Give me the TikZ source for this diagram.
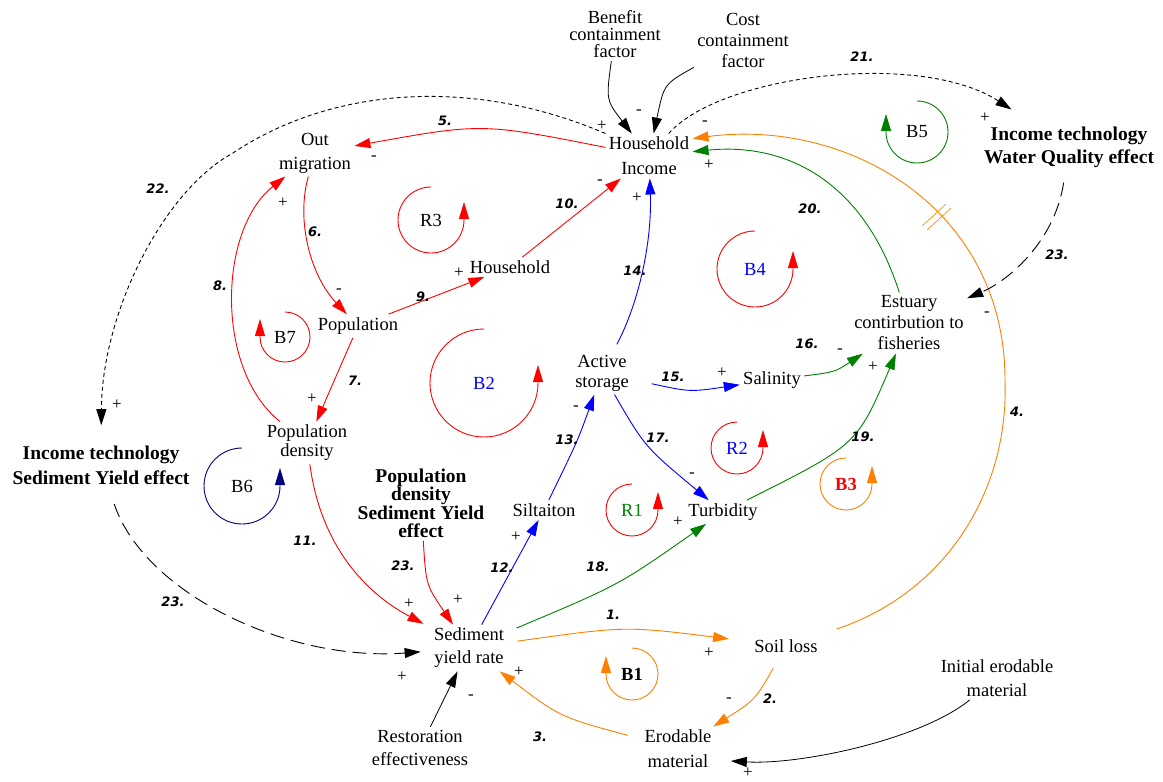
\documentclass[tikz,border=0pt]{standalone}
\usepackage{fontspec}
\setmainfont{Liberation Serif}
\newfontfamily\numfont{DejaVu Sans}
\usetikzlibrary{arrows.meta}

\definecolor{cred}{RGB}{255,0,0}
\definecolor{corange}{RGB}{255,128,0}
\definecolor{cgreen}{RGB}{0,128,0}
\definecolor{cblue}{RGB}{0,0,255}
\definecolor{cnavy}{RGB}{0,0,128}

\newcommand\varfont[1]{\fontsize{18.5}{#1}\selectfont}
\newcommand\boldfont[1]{\fontsize{19.5}{#1}\selectfont\bfseries}

\begin{document}
\begin{tikzpicture}[x=1pt,y=-1pt,>={Triangle[length=16pt,width=10pt]},
                    line width=0.9pt]

  \tikzstyle{var}=[align=center,inner sep=3pt,font=\varfont{22}]
  \tikzstyle{num}=[inner sep=0pt,font=\numfont\bfseries\itshape\fontsize{13}{13}\selectfont]
  \tikzstyle{sgn}=[inner sep=0pt,font=\fontsize{17}{17}\selectfont]
  \tikzstyle{loopline}=[-{Triangle[length=17pt,width=10pt]}]
  \tikzstyle{looplabel}=[inner sep=0pt]
  \tikzstyle{dotline}=[->,dash pattern=on 4pt off 3pt]
  \tikzstyle{dashline}=[->,dash pattern=on 14pt off 7pt]

  \useasboundingbox (0,0) rectangle (1163,782);

  % variables
  \node[var,font=\varfont{17}] (bcf)   at (615,34)  {Benefit\\containment\\factor};
  \node[var,font=\varfont{21}] (ccf)   at (743,40)  {Cost\\containment\\factor};
  \node[var,font=\varfont{25}] (hi)    at (649,156) {Household\\Income};
  \node[var,font=\varfont{24}] (om)    at (315,153) {Out\\migration};
  \node[var]                   (hh)    at (510,267) {Household};
  \node[var]                   (pop)   at (358,326) {Population};
  \node[var,font=\varfont{19}] (pd)    at (307,443) {Population\\density};
  \node[var,font=\boldfont{25}] (itsy) at (101,465) {Income technology\\Sediment Yield effect};
  \node[var,font=\boldfont{23}] (itwq) at (1069,147) {Income technology\\Water Quality effect};
  \node[var,font=\varfont{21}] (est)   at (909,323) {Estuary\\contirbution to\\fisheries};
  \node[var,font=\varfont{20}] (actst) at (602,373) {Active\\storage};
  \node[var]                   (sal)   at (772,380) {Salinity};
  \node[var]                   (turb)  at (723,512) {Turbidity};
  \node[var]                   (silt)  at (544,510) {Siltaiton};
  \node[var,font=\boldfont{17.5}] (pdsy) at (421,503) {Population\\density\\Sediment Yield\\effect};
  \node[var,font=\varfont{23}] (syr)   at (469,648) {Sediment\\yield rate};
  \node[var]                   (soil)  at (786,646) {Soil loss};
  \node[var,font=\varfont{25}] (erm)   at (678,749) {Erodable\\material};
  \node[var,font=\varfont{24}] (iem)   at (997,678) {Initial erodable\\material};
  \node[var,font=\varfont{23}] (rest)  at (420,748) {Restoration\\effectiveness};

  % orange links
  \draw[->,corange,shorten <=10pt,shorten >=22pt] (syr) .. controls (625,626) .. (soil);
  \draw[->,corange,shorten <=14pt] (soil) .. controls (755,700) .. (erm);
  \draw[->,corange,shorten <=14pt] (erm) .. controls (560,717) .. (syr);
  \draw[->,corange,shorten <=22pt] (soil) .. controls (947,592) and (1009,490) .. (1005,380)
        .. controls (1005,210) and (850,118) .. ([yshift=-5pt]hi.north east);
  \draw[corange,line width=0.6pt] (922,226) -- (946,204) (927,230) -- (951,208);

  % red links
  \draw[->,cred] (hi) .. controls (482,123) .. (om);
  \draw[->,cred] (om) .. controls (296,220) and (310,275) .. (pop);
  \draw[->,cred] (pop) -- (pd);
  \draw[->,cred] (pd) .. controls (215,370) and (218,230) .. (om);
  \draw[->,cred] (pop) -- (hh);
  \draw[->,cred] (hh) -- (hi);
  \draw[->,cred,shorten >=8pt] (pd) .. controls (320,540) and (360,590) .. (syr);
  \draw[->,cred] (pdsy) .. controls (426,585) .. (syr);

  % blue links
  \draw[->,cblue] (syr) -- (silt);
  \draw[->,cblue] (silt) .. controls (578,440) .. (actst);
  \draw[->,cblue,shorten <=8pt] (actst) .. controls (640,300) and (652,240) .. (hi);
  \draw[->,cblue,shorten <=20pt] (actst) .. controls (690,392) .. (sal);
  \draw[->,cblue] (actst) .. controls (645,447) .. (turb);

  % green links
  \draw[->,cgreen] (sal) .. controls (835,372) .. (est);
  \draw[->,cgreen,shorten <=10pt] (syr) .. controls (619,585) .. (turb);
  \draw[->,cgreen] (turb) .. controls (857,445) .. (est);
  \draw[->,cgreen] (est) .. controls (865,185) and (790,142) .. (hi);

  % black links
  \draw[dotline,shorten >=25pt] (hi) .. controls (720,75) and (920,50) .. (itwq);
  \draw[dotline,shorten >=17pt] (hi.north west) .. controls (476,78) and (335,85) .. (233,153)
        .. controls (163,191) and (102,313) .. (itsy);
  \draw[dashline,shorten <=17pt,shorten >=10pt] (itsy) .. controls (145,595) and (290,662) .. (syr);
  \draw[dashline,shorten <=12pt] (itwq) .. controls (1055,240) and (1010,280) .. (est);
  \draw[->,line width=0.8pt] (bcf) .. controls (606,100) .. (hi);
  \draw[->,line width=0.8pt] (ccf) .. controls (664,84) .. (hi);
  \draw[->,line width=0.8pt] (rest) -- (syr);
  \draw[->,line width=0.8pt] (iem) .. controls (920,740) and (800,765) .. ([xshift=16pt,yshift=-12pt]erm.east);

  % loop markers
  \foreach \n/\cx/\cy/\r/\e/\col/\lcol/\f in {
      R3/431/220/33/-360/cred/black/\mdseries,
      B7/285/337/25/180/cred/black/\mdseries,
      B2/484/383/54/-360/cred/cblue/\mdseries,
      B6/242/486/38/-360/cnavy/black/\mdseries,
      B4/755/269/38/-360/cred/cblue/\mdseries,
      B5/917/132/31/180/cgreen/black/\mdseries,
      R2/737/448/26/-360/cred/cblue/\mdseries,
      R1/632/510/26/-360/cred/cgreen/\mdseries,
      B3/846/484/26/-360/corange/cred/\bfseries,
      B1/632/674/26/180/corange/black/\bfseries}
  {
    \draw[loopline,\col] (\cx,\cy) ++(-90:\r) arc[start angle=-90,end angle=\e,radius=\r] -- ++(0,-18);
    \node[looplabel,text=\lcol,font=\varfont{22}\f] (loop\n) at (\cx,\cy) {\n};
  }

  % link numbers
  \foreach \t/\x/\y [count=\i] in {1/613/615, 2/770/699, 3/540/737, 4/1017/412,
      5/445/121, 6/315/232, 7/355/381, 8/220/286, 9/423/297, 10/567/204,
      11/305/541, 12/502/568, 13/567/440, 14/635/271, 15/673/377, 16/807/344,
      17/658/438, 18/598/567, 19/863/437, 20/810/209, 21/862/57, 22/158/189,
      23/403/566, 23/173/602, 23/1057/255}
    \node[num] (num\i) at (\x,\y) {\t.};

  % polarities
  \foreach \s/\x/\y [count=\i] in {+/602/126, -/639/112, -/705/123, +/709/165,
      -/600/182, +/637/198, -/374/158, +/283/203, -/339/291, +/459/273,
      +/312/399, +/117/405, +/985/118, -/987/314, -/840/351, +/873/367,
      +/722/373, -/576/408, -/692/475, +/678/522, +/516/537, +/409/604,
      +/458/600, +/402/677, +/519/672, -/471/697, +/709/653, -/729/700,
      +/748/773}
    \node[sgn] (sgn\i) at (\x,\y) {\s};
\end{tikzpicture}
\end{document}
